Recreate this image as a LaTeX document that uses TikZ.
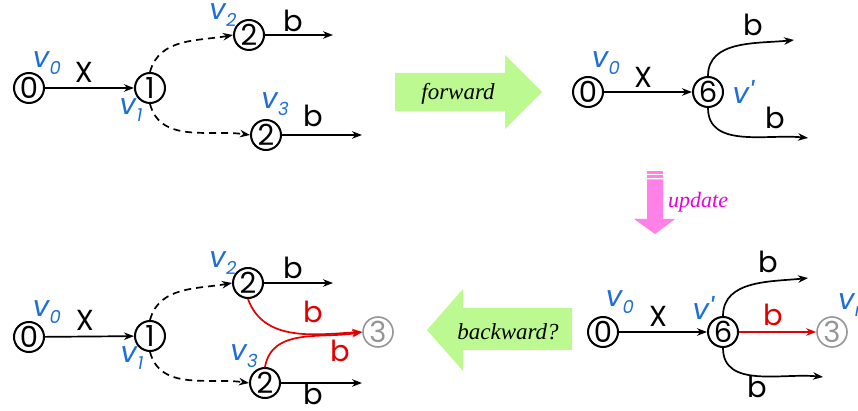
\documentclass[tikz,border=0pt]{standalone}
\usepackage{fontspec}
\setmainfont{Liberation Serif}
\newfontfamily\lblfont{Poppins}
\usetikzlibrary{arrows.meta}
\definecolor{vblue}{RGB}{30,110,215}
\definecolor{ered}{RGB}{225,0,0}
\definecolor{ngray}{RGB}{150,150,150}
\definecolor{agreen}{RGB}{188,250,145}
\definecolor{apink}{RGB}{255,128,230}
\definecolor{tmag}{RGB}{230,0,220}
\newcommand\vlab[1]{{\lblfont\itshape v\kern0.5pt\raisebox{-0.4ex}{\fontsize{18}{18}\selectfont #1}}}
\begin{document}
\begin{tikzpicture}[x=1pt,y=-1pt,
  st/.style={circle,draw,line width=2pt,minimum size=30pt,inner sep=0pt,font=\lblfont\fontsize{29}{29}\selectfont},
  gst/.style={st,draw=ngray,text=ngray,line width=1.6pt},
  lbl/.style={font=\lblfont\fontsize{29}{29}\selectfont,inner sep=0pt},
  vl/.style={text=vblue,font=\fontsize{29}{29}\selectfont,inner sep=0pt},
  ed/.style={line width=1.7pt,-{Stealth[length=10pt,width=7.5pt]}},
  dsh/.style={ed,dash pattern=on 7pt off 5pt},
  red/.style={ed,draw=ered},
  rl/.style={lbl,text=ered},
  bigarrow/.style={fill=agreen,draw=none},
  atext/.style={font=\fontsize{23}{23}\selectfont\itshape,inner sep=0pt}]
\useasboundingbox (0,0) rectangle (858,411);

% ---------- top-left ----------
\node[st] (a0) at (29,88) {0};
\node[st] (a1) at (150,88) {1};
\node[st] (a2) at (249,35) {2};
\node[st] (a3) at (266,135) {2};
\coordinate (a2e) at (333,35);
\coordinate (a3e) at (362,135);
\draw[ed] (a0) -- (a1);
\draw[dsh] (a1.north) to[out=75,in=190] (a2.west);
\draw[dsh] (a1.south) to[out=-75,in=172] (a3.west);
\draw[ed] (a2) -- (a2e);
\draw[ed] (a3) -- (a3e);
\node[vl] (a0l) at (47,63) {\vlab{0}};
\node[lbl] (a0x) at (84,72) {X};
\node[vl] (a1l) at (131,110) {\vlab{1}};
\node[vl] (a2l) at (223,15) {\vlab{2}};
\node[vl] (a3l) at (275,104) {\vlab{3}};
\node[lbl] (a2b) at (293,21) {b};
\node[lbl] (a3b) at (313,116) {b};

% ---------- forward arrow ----------
\path[bigarrow] (395,73) -- (505,73) -- (505,55) -- (542,92) -- (505,129) -- (505,111) -- (395,111) -- cycle;
\node[atext] (fw) at (458,94) {forward};

% ---------- top-right ----------
\node[st] (b0) at (588,92) {0};
\node[st] (b6) at (708,92) {6};
\coordinate (b6u) at (794,40);
\coordinate (b6d) at (808,138);
\draw[ed] (b0) -- (b6);
\draw[ed] (b6.north) to[out=90,in=186] (b6u);
\draw[ed] (b6.south) to[out=-90,in=174] (b6d);
\node[vl] (b0l) at (606,63) {\vlab{0}};
\node[lbl] (b0x) at (643,77) {X};
\node[vl] (b6l) at (743,92) {\lblfont\itshape v'};
\node[lbl] (bub) at (753,25) {b};
\node[lbl] (bdb) at (775,118) {b};

% ---------- update arrow ----------
\fill[apink] (647,171.5) rectangle (663,174);
\fill[apink] (647,175.5) rectangle (663,178);
\fill[apink] (647,179.5) -- (663,179.5) -- (663,219) -- (675,219) -- (655,234) -- (634,219) -- (647,219) -- cycle;
\node[atext,anchor=west,text=tmag,font=\fontsize{22}{22}\selectfont\itshape] (upd) at (668,202) {update};

% ---------- bottom-right ----------
\node[st] (c0) at (603,332) {0};
\node[st] (c6) at (723,332) {6};
\node[gst] (c3) at (832,332) {3};
\coordinate (c6u) at (808,278);
\coordinate (c6d) at (823,377);
\draw[ed] (c0) -- (c6);
\draw[red] (c6) -- (c3);
\draw[ed] (c6.north) to[out=90,in=186] (c6u);
\draw[ed] (c6.south) to[out=-90,in=174] (c6d);
\node[vl] (c0l) at (620,302) {\vlab{0}};
\node[lbl] (c0x) at (658,316) {X};
\node[vl] (c6l) at (703,308) {\lblfont\itshape v'};
\node[vl,anchor=west] (c3l) at (838,305) {\vlab{r}};
\node[lbl] (cub) at (768,262) {b};
\node[rl] (crb) at (773,315) {b};
\node[lbl,anchor=base,text depth=0pt] (cdb) at (757,397) {b};

% ---------- backward arrow ----------
\path[bigarrow] (572,308) -- (463,308) -- (463,289) -- (427,330) -- (463,371) -- (463,350) -- (572,350) -- cycle;
\node[atext] (bw) at (508,332) {backward?};

% ---------- bottom-left ----------
\node[st] (d0) at (29,337) {0};
\node[st] (d1) at (150,336) {1};
\node[st] (d2) at (248,283) {2};
\node[st] (d3) at (265,383) {2};
\node[gst] (d4) at (378,332) {3};
\coordinate (d2e) at (333,283);
\coordinate (d3e) at (362,383);
\draw[ed] (d0) -- (d1);
\draw[dsh] (d1.north) to[out=75,in=190] (d2.west);
\draw[dsh] (d1.south) to[out=-75,in=172] (d3.west);
\draw[ed] (d2) -- (d2e);
\draw[ed] (d3) -- (d3e);
\draw[red] (d2.south) to[out=-70,in=183] (d4.west);
\draw[red] (d3.north) to[out=80,in=190] (d4.west);
\node[vl] (d0l) at (47,312) {\vlab{0}};
\node[lbl] (d0x) at (85,320) {X};
\node[vl] (d1l) at (132,358) {\vlab{1}};
\node[vl] (d2l) at (223,263) {\vlab{2}};
\node[vl] (d3l) at (244,356) {\vlab{3}};
\node[lbl] (d2b) at (293,268) {b};
\node[lbl,anchor=base,text depth=0pt] (d3b) at (313,404) {b};
\node[rl] (d2r) at (313,312) {b};
\node[rl] (d3r) at (340,351) {b};
\end{tikzpicture}
\end{document}
